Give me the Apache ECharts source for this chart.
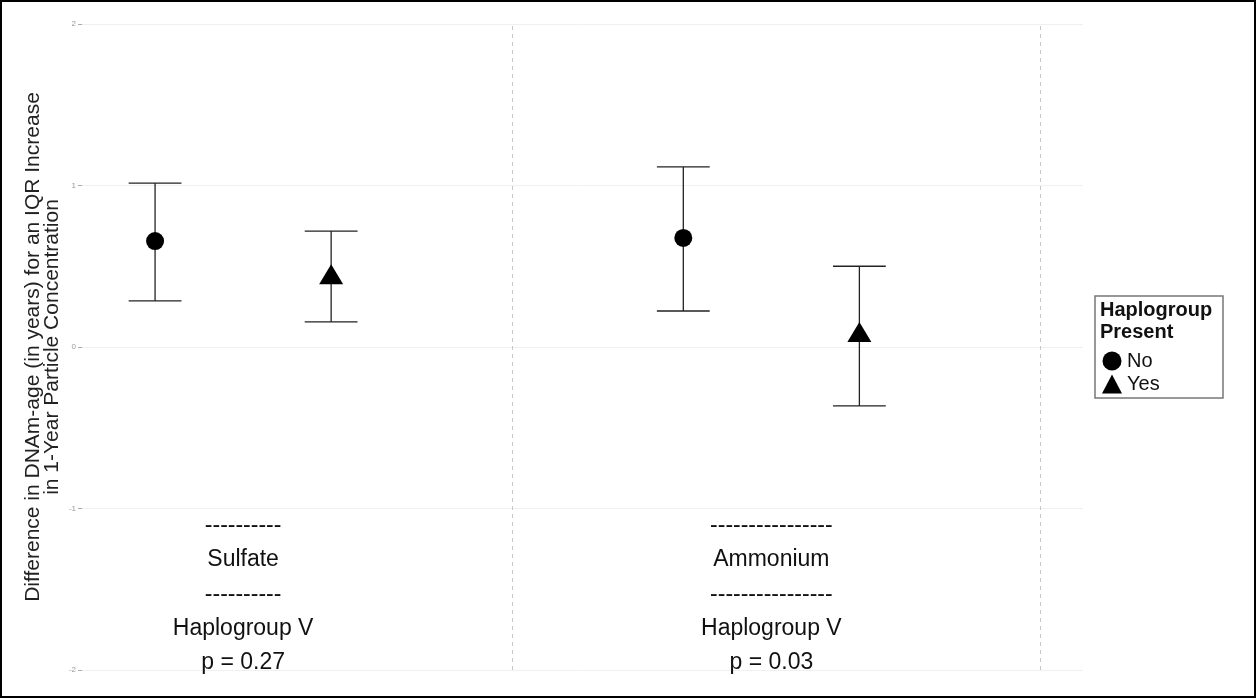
<!DOCTYPE html>
<html>
<head>
<meta charset="utf-8">
<script src="https://cdn.jsdelivr.net/npm/echarts@6/dist/echarts.min.js"></script>
<style>
  html, body { margin: 0; padding: 0; background: #fff; }
  #main { width: 1256px; height: 698px; }
</style>
</head>
<body>
<div id="main"></div>
<script>
// data
var categories = ['Sulfate', 'Ammonium'];
var dashLines = ['----------', '----------------'];
var subLabel = ['Haplogroup V', 'Haplogroup V'];
var pValues = ['0.27', '0.03'];
var groups = ['No', 'Yes'];
var estNo = [0.656, 0.675];
var lowNo = [0.285, 0.223];
var upNo = [1.015, 1.115];
var estYes = [0.45, 0.093];
var lowYes = [0.155, -0.365];
var upYes = [0.718, 0.50];
var yTicks = [-2, -1, 0, 1, 2];
var dividers = [1.507, 2.507];

var dodge = 1 / 6;   // position offset of each group inside a category
var capWidth = 0.1;  // error bar cap width in x units
var fontFamily = '"Liberation Sans", Arial, sans-serif';

var chart = echarts.init(document.getElementById('main'));

function pointData(est, offset) {
  return est.map(function (v, i) { return [i + 1 + offset, v]; });
}
function barData(low, up, offset) {
  return low.map(function (v, i) { return [i + 1 + offset, v, up[i]]; });
}

function renderErrorBar(params, api) {
  var x = api.value(0);
  var lo = api.coord([x, api.value(1)]);
  var hi = api.coord([x, api.value(2)]);
  var half = api.size([capWidth, 0])[0] / 2;
  var style = { stroke: '#222', lineWidth: 1.3 };
  return {
    type: 'group',
    children: [
      { type: 'line', shape: { x1: lo[0], y1: lo[1], x2: hi[0], y2: hi[1] }, style: style },
      { type: 'line', shape: { x1: lo[0] - half, y1: lo[1], x2: lo[0] + half, y2: lo[1] }, style: style },
      { type: 'line', shape: { x1: hi[0] - half, y1: hi[1], x2: hi[0] + half, y2: hi[1] }, style: style }
    ]
  };
}

var option = {
  animation: false,
  textStyle: { fontFamily: fontFamily },
  grid: { left: 82, right: 173, top: 24, bottom: 28 },
  xAxis: {
    type: 'value',
    min: 0.695,
    max: 2.59,
    axisLine: { show: false },
    axisTick: { show: false },
    splitLine: { show: false },
    axisLabel: {
      customValues: [1, 2],
      inside: true,
      margin: -10,
      color: '#111',
      fontSize: 23,
      lineHeight: 34.25,
      align: 'center',
      formatter: function (v) {
        var i = Math.round(v) - 1;
        if (i < 0 || i >= categories.length) return '';
        return [dashLines[i], categories[i], dashLines[i], subLabel[i], 'p = ' + pValues[i]].join('\n');
      }
    }
  },
  yAxis: {
    type: 'value',
    min: yTicks[0],
    max: yTicks[yTicks.length - 1],
    interval: 1,
    name: 'Difference in DNAm-age (in years) for an IQR Increase\nin 1-Year Particle Concentration',
    nameLocation: 'middle',
    nameGap: 20,
    nameMoveOverlap: false,
    nameTextStyle: { fontSize: 21, color: '#222', lineHeight: 19 },
    axisLine: { show: false },
    axisTick: { show: true, length: 4, lineStyle: { color: '#aaa' } },
    axisLabel: { fontSize: 8, color: '#999', margin: 6 },
    splitLine: { lineStyle: { color: '#f0f0f0', width: 1 } }
  },
  legend: {
    orient: 'vertical',
    left: 1097,
    top: 346,
    itemGap: 3,
    itemWidth: 20,
    itemHeight: 19,
    textStyle: { fontSize: 20, color: '#111' },
    data: [
      { name: groups[0], icon: 'circle' },
      { name: groups[1], icon: 'triangle' }
    ]
  },
  graphic: [
    { type: 'rect', shape: { x: 1, y: 1, width: 1254, height: 696 }, style: { fill: 'none', stroke: '#000', lineWidth: 2 }, silent: true },
    { type: 'rect', shape: { x: 1095, y: 296, width: 128, height: 102 }, style: { fill: 'none', stroke: '#777', lineWidth: 1.5 }, silent: true },
    { type: 'text', left: 1100, top: 299, style: { text: 'Haplogroup\nPresent', fontSize: 20, fontWeight: 'bold', lineHeight: 22, fill: '#111', fontFamily: fontFamily } }
  ],
  series: [
    {
      name: 'dividers',
      type: 'line',
      data: [],
      markLine: {
        silent: true,
        symbol: 'none',
        label: { show: false },
        lineStyle: { color: '#c8c8c8', type: [4, 4], width: 1 },
        data: dividers.map(function (d) { return { xAxis: d }; })
      }
    },
    { name: 'barsNo', type: 'custom', renderItem: renderErrorBar, data: barData(lowNo, upNo, -dodge), z: 2 },
    { name: 'barsYes', type: 'custom', renderItem: renderErrorBar, data: barData(lowYes, upYes, dodge), z: 2 },
    {
      name: groups[0], type: 'scatter', symbol: 'circle', symbolSize: 18,
      itemStyle: { color: '#000', opacity: 1 }, data: pointData(estNo, -dodge), z: 3
    },
    {
      name: groups[1], type: 'scatter', symbol: 'triangle', symbolSize: [24, 20],
      itemStyle: { color: '#000', opacity: 1 }, data: pointData(estYes, dodge), z: 3
    }
  ]
};

chart.setOption(option);
</script>
</body>
</html>
